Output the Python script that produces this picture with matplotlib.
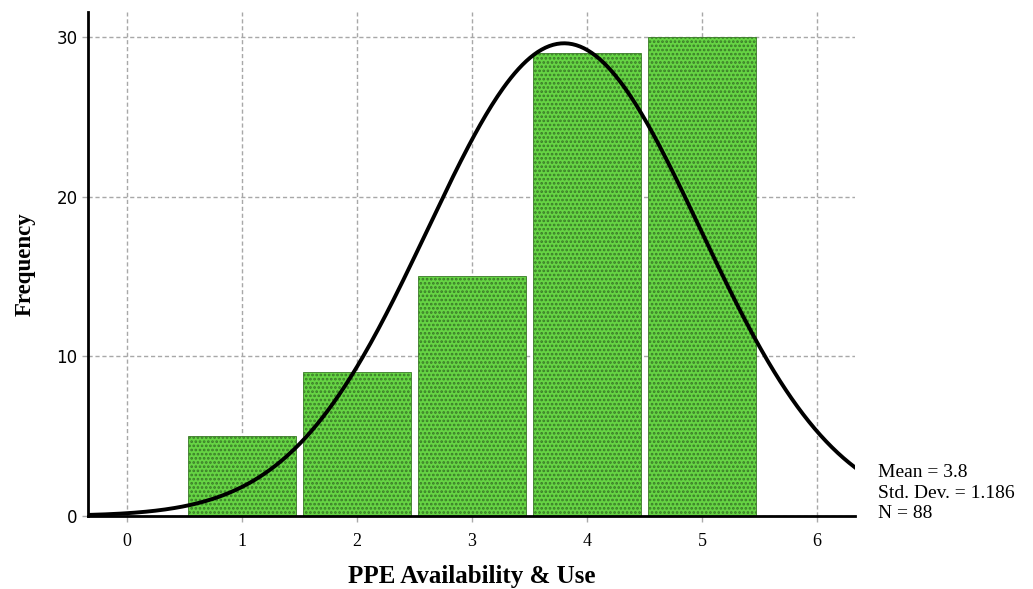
import numpy as np
import matplotlib
matplotlib.use("Agg")
import matplotlib.pyplot as plt

matplotlib.rcParams['hatch.linewidth'] = 1.3
matplotlib.rcParams['hatch.color'] = '#24501a'

# histogram data (values 1..5)
categories = [1, 2, 3, 4, 5]
counts = [5, 9, 15, 29, 30]
mean = 3.8
std = 1.186
n = 88
xticks = [0, 1, 2, 3, 4, 5, 6]
yticks = [0, 10, 20, 30]

fig = plt.figure(figsize=(10.33, 5.89), dpi=100)
ax = fig.add_axes([88/1033, 1-516/589, (855-88)/1033, (516-12)/589])

ax.bar(categories, counts, width=0.94, color='#66d444', edgecolor='#3a7a28',
       linewidth=0.6, hatch='....', zorder=2)

# normal curve scaled to counts
x0, x1 = -0.34, 6.33
xs = np.linspace(x0, x1, 400)
ys = n / (std*np.sqrt(2*np.pi)) * np.exp(-0.5*((xs-mean)/std)**2)
ax.plot(xs, ys, color='black', lw=2.8, zorder=3)

ax.set_xlim(x0, x1)
ax.set_ylim(0, 31.56)
ax.set_xticks(xticks)
ax.set_yticks(yticks)
ax.set_xticklabels([str(t) for t in xticks], family='Liberation Serif', fontsize=13)
ax.set_yticklabels([str(t) for t in yticks], family='DejaVu Sans', fontsize=12)
ax.tick_params(length=4, color='#aaaaaa', width=1)
ax.tick_params(axis='x', pad=8)

ax.grid(True, ls=(0, (3, 2)), color='#a8a8a8', lw=1, zorder=0)
ax.set_axisbelow(True)
for s in ['top', 'right']:
    ax.spines[s].set_visible(False)
ax.spines['left'].set_linewidth(2)
ax.spines['bottom'].set_linewidth(2)

ax.set_xlabel('PPE Availability & Use', family='Liberation Serif', fontweight='bold',
              fontsize=18, labelpad=11)
ax.set_ylabel('Frequency', family='Liberation Serif', fontweight='bold',
              fontsize=16.5, labelpad=15)

fig.text(878/1033, 1-493/589, 'Mean = 3.8\nStd. Dev. = 1.186\nN = 88',
         family='Liberation Serif', fontsize=14, va='center', ha='left', linespacing=1.25)

fig.savefig('out.png', dpi=100)
